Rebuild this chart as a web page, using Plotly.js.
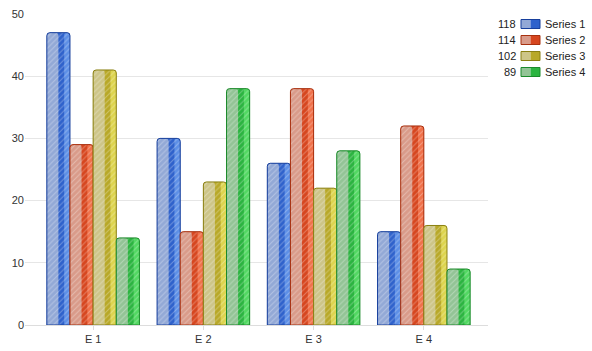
<!DOCTYPE html>
<html>
<head>
<meta charset="utf-8">
<script src="https://cdn.plot.ly/plotly-3.0.1.min.js"></script>
<style>html,body{margin:0;padding:0;background:#fff;}#chart{width:592px;height:351px;}</style>
</head>
<body>
<div id="chart"></div>
<script>
var categories = ["E 1", "E 2", "E 3", "E 4"];
var seriesNames = ["Series 1", "Series 2", "Series 3", "Series 4"];
var series1 = [47, 30, 26, 15];
var series2 = [29, 15, 38, 32];
var series3 = [41, 23, 22, 16];
var series4 = [14, 38, 28, 9];
var seriesValues = [series1, series2, series3, series4];

var baseColors = ["#2f62cc", "#d6461f", "#b8a828", "#2bb440"];
var lightColors = ["#5d8fe6", "#f0714a", "#ddd44e", "#52d862"];
var paleColors = ["#93a9d6", "#d99b8a", "#cdc588", "#93c496"];
var edgeColors = ["#173f9c", "#a8300f", "#8a8012", "#1b8a2a"];

var barW = 0.21;
var groupW = barW * 4;

function patt(c) {
  return {shape: "/", bgcolor: c, fgcolor: "#ffffff", fgopacity: 0.3, size: 4, solidity: 0.25};
}

var traces = [];
seriesValues.forEach(function (vals, i) {
  var off = -groupW / 2 + i * barW;
  traces.push({
    type: "bar", x: categories, y: vals, width: barW, offset: off,
    marker: {color: baseColors[i], cornerradius: 3, line: {width: 0}, pattern: patt(baseColors[i])},
    hoverinfo: "skip", showlegend: false
  });
  traces.push({
    type: "bar", x: categories, y: vals, width: barW / 4, offset: off + barW * 0.75,
    marker: {color: lightColors[i], cornerradius: 2, line: {width: 0}, pattern: patt(lightColors[i])},
    hoverinfo: "skip", showlegend: false
  });
  traces.push({
    type: "bar", x: categories, y: vals, width: barW / 2, offset: off,
    marker: {color: paleColors[i], cornerradius: 3, line: {width: 0}, pattern: patt(paleColors[i])},
    hoverinfo: "skip", showlegend: false
  });
  traces.push({
    type: "bar", x: categories, y: vals, width: barW, offset: off,
    marker: {color: "rgba(0,0,0,0)", cornerradius: 3, line: {width: 1, color: edgeColors[i]}},
    hoverinfo: "skip", showlegend: false
  });
});

// custom legend (paper coords; plot area 25..488 px horizontally, 14..325 px vertically)
function px2x(p) { return (p - 25) / 463; }
function px2y(p) { return (325 - p) / 311; }
var shapes = [];
var annotations = [];
var rowY = [24, 40, 56, 72];
seriesValues.forEach(function (vals, i) {
  var total = vals.reduce(function (a, b) { return a + b; }, 0);
  var yc = rowY[i];
  shapes.push({type: "rect", xref: "paper", yref: "paper",
    x0: px2x(521), x1: px2x(530.5), y0: px2y(yc + 4.5), y1: px2y(yc - 4.5),
    fillcolor: paleColors[i], line: {width: 0}});
  shapes.push({type: "rect", xref: "paper", yref: "paper",
    x0: px2x(530.5), x1: px2x(540), y0: px2y(yc + 4.5), y1: px2y(yc - 4.5),
    fillcolor: baseColors[i], line: {width: 0}});
  shapes.push({type: "rect", xref: "paper", yref: "paper",
    x0: px2x(521), x1: px2x(540), y0: px2y(yc + 4.5), y1: px2y(yc - 4.5),
    fillcolor: "rgba(0,0,0,0)", line: {width: 1, color: edgeColors[i]}});
  annotations.push({xref: "paper", yref: "paper", x: px2x(518), y: px2y(yc), xanchor: "right", yanchor: "middle",
    text: String(total), showarrow: false, font: {family: "Liberation Sans, Arial, sans-serif", size: 11, color: "#222"}});
  annotations.push({xref: "paper", yref: "paper", x: px2x(543), y: px2y(yc), xanchor: "left", yanchor: "middle",
    text: seriesNames[i], showarrow: false, font: {family: "Liberation Sans, Arial, sans-serif", size: 11, color: "#222"}});
});

var layout = {
  width: 592, height: 351,
  margin: {l: 25, r: 104, t: 14, b: 26, pad: 0},
  paper_bgcolor: "#ffffff", plot_bgcolor: "#ffffff",
  barmode: "overlay",
  showlegend: false,
  font: {family: "Liberation Sans, Arial, sans-serif", size: 11, color: "#333"},
  xaxis: {
    type: "category", range: [-0.618, 3.582], fixedrange: true,
    showline: true, linecolor: "#dddddd", linewidth: 1,
    ticks: "outside", ticklen: 4, tickcolor: "#dddddd",
    showgrid: false, zeroline: false,
    tickfont: {size: 11, color: "#333"}
  },
  yaxis: {
    range: [0, 50], dtick: 10, fixedrange: true,
    showgrid: true, gridcolor: "#e6e6e6", gridwidth: 1,
    zeroline: false, showline: false, ticks: "",
    tickfont: {size: 11, color: "#333"}
  },
  shapes: shapes,
  annotations: annotations
};

Plotly.newPlot("chart", traces, layout, {displayModeBar: false, staticPlot: true});
</script>
</body>
</html>
